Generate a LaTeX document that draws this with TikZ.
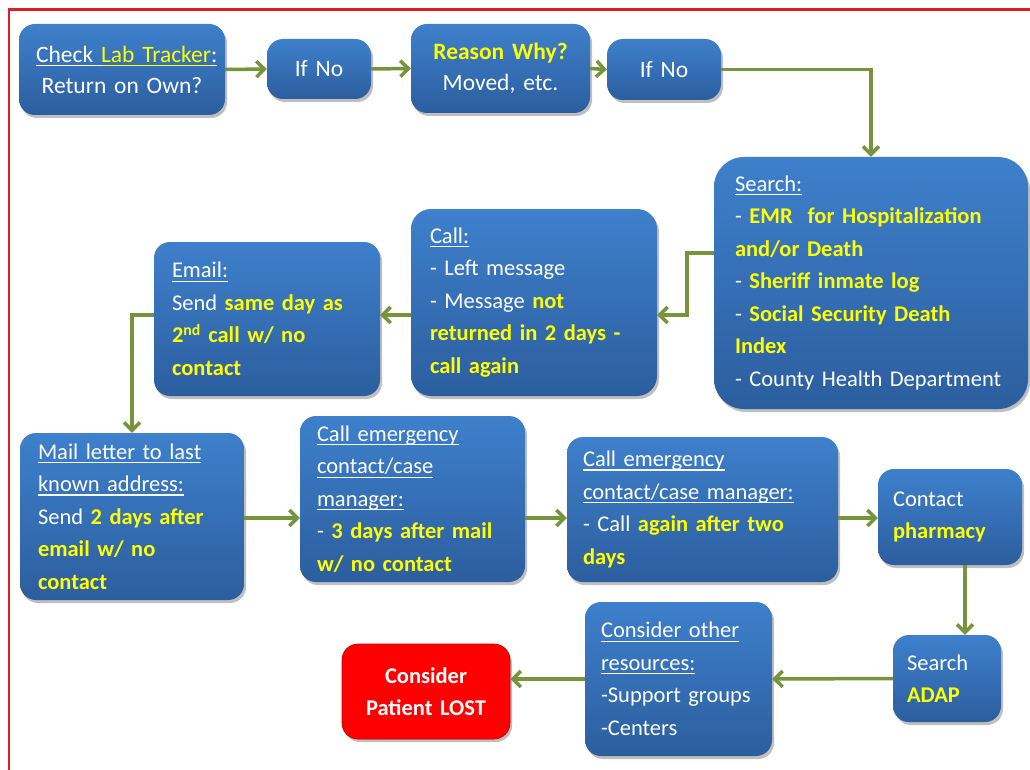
\documentclass[tikz,border=0pt]{standalone}
\usepackage{fontspec}
\setmainfont{Carlito}
\usetikzlibrary{arrows.meta,shadows}
\definecolor{bt}{RGB}{62,128,204}
\definecolor{bb}{RGB}{44,94,158}
\definecolor{yel}{RGB}{255,255,0}
\definecolor{grn}{RGB}{119,147,60}
\definecolor{frame}{RGB}{220,30,40}
\newcommand\uln[1]{\leavevmode\setbox0\hbox{#1}\rlap{\rule[-4pt]{\wd0}{1.3pt}}\box0}
\newcommand\Y[1]{{\color{yel}\bfseries #1}}
\newcommand\boxfont{\fontsize{22.5}{32.5}\selectfont\spaceskip=3.8pt plus 1pt minus 1pt\hyphenpenalty=10000\exhyphenpenalty=10000}
\tikzset{
  box/.style={rounded corners=16pt, top color=bt, bottom color=bb, draw=none,
    text=white, font=\boxfont, inner xsep=17pt, inner ysep=0pt,
    align=left, drop shadow={shadow xshift=2pt, shadow yshift=-3pt, opacity=0.25, fill=black}},
  cbox/.style={box, align=center},
  lostbox/.style={cbox, top color=red, bottom color=red, fill=red, draw=red!75!black, line width=0.6pt},
  arr/.style={draw=grn, line width=3.5pt, -{Straight Barb[length=8pt,width=16pt]}},
}
\begin{document}
\begin{tikzpicture}[x=1pt,y=-1pt]
\fill[white] (0,0) rectangle (1030,770);
\useasboundingbox (0,0) rectangle (1030,770);
\draw[frame, line width=2.5pt] (9,770) -- (9,9.5) -- (1030,9.5);

\node[cbox, text width=172pt, minimum height=91pt, font=\boxfont\fontsize{23.5}{31}\selectfont] (check) at (122,69.5)
  {\uln{Check }{\color{yel}\uln{Lab Tracker}}\uln{:}\\Return on Own?};
\node[cbox, text width=70pt, minimum height=60pt, font=\boxfont\fontsize{23.5}{31}\selectfont] (ifno1) at (319,69) {If No};
\node[cbox, text width=145pt, minimum height=89pt, font=\boxfont\fontsize{23.5}{31}\selectfont] (reason) at (500.5,68.5)
  {\Y{Reason Why?}\\Moved, etc.};
\node[cbox, text width=80pt, minimum height=61pt, font=\boxfont\fontsize{23.5}{31}\selectfont] (ifno2) at (664,69.5) {If No};

\node[box, rounded corners=30pt, inner xsep=21pt, text width=272pt, minimum height=252pt] (search) at (871,283)
  {\uln{Search:}\\
   - \Y{EMR\ \ for Hospitalization}\\
   \Y{and/or Death}\\
   - \Y{Sheriff inmate log}\\
   - \Y{Social Security Death}\\
   \Y{Index}\\
   - County Health Department};

\node[box, rounded corners=20pt, inner xsep=19pt, text width=208pt, minimum height=187pt] (call) at (534,302.5)
  {\uln{Call:}\\
   - Left message\\
   - Message \Y{not}\\
   \Y{returned in 2 days -}\\
   \Y{call again}};

\node[box, inner xsep=18pt, text width=190pt, minimum height=154pt] (email) at (267,319)
  {\uln{Email:}\\
   Send \Y{same day as}\\
   \Y{2\textsuperscript{nd} call w/ no}\\
   \Y{contact}};

\node[box, inner xsep=18pt, text width=188pt, minimum height=167pt] (mail) at (132,516.5)
  {\uln{Mail letter to last}\\
   \uln{known address:}\\
   Send \Y{2 days after}\\
   \Y{email w/ no}\\
   \Y{contact}};

\node[box, text width=191pt, minimum height=166pt] (ce1) at (412.5,499)
  {\uln{Call emergency}\\
   \uln{contact/case}\\
   \uln{manager:}\\
   - \Y{3 days after mail}\\
   \Y{w/ no contact}};

\node[box, inner xsep=16pt, text width=239pt, minimum height=145pt] (ce2) at (702.5,509.5)
  {\uln{Call emergency}\\
   \uln{contact/case manager:}\\
   - Call \Y{again after two}\\
   \Y{days}};

\node[box, inner xsep=15pt, text width=114pt, minimum height=96pt] (pharm) at (950,517)
  {Contact\\\Y{pharmacy}};

\node[box, inner xsep=14pt, text width=80pt, minimum height=87pt] (adap) at (947,678.5)
  {Search\\\Y{ADAP}};

\node[box, inner xsep=16pt, text width=155pt, minimum height=154pt] (other) at (678.5,679)
  {\uln{Consider other}\\
   \uln{resources:}\\
   -Support groups\\
   -Centers};

\node[lostbox, text width=134pt, minimum height=95pt, font=\boxfont\bfseries] (lost) at (426,691.5)
  {Consider\\Patient LOST};

\coordinate (r3) at (0,518);
\coordinate (c4) at (965,0);

\draw[arr] (check.east) -- (ifno1.west);
\draw[arr] (ifno1.east) -- (reason.west);
\draw[arr] (reason.east) -- (ifno2.west);
\draw[arr] (ifno2.east) -| (search.north);
\draw[arr] ([yshift=30pt]search.west) -- ++(-27,0) |- ([yshift=-12.5pt]call.east);
\draw[arr] ([yshift=-12.5pt]call.west) -- ([yshift=4pt]email.east);
\draw[arr] ([yshift=4pt]email.west) -| (mail.north);
\draw[arr] (mail.east |- r3) -- (ce1.west |- r3);
\draw[arr] (ce1.east |- r3) -- (ce2.west |- r3);
\draw[arr] (ce2.east |- r3) -- (pharm.west |- r3);
\draw[arr] (pharm.south -| c4) -- (adap.north -| c4);
\draw[arr] (adap.west) -- (other.east);
\draw[arr] (other.west) -- (lost.east |- other.west);
\end{tikzpicture}
\end{document}
